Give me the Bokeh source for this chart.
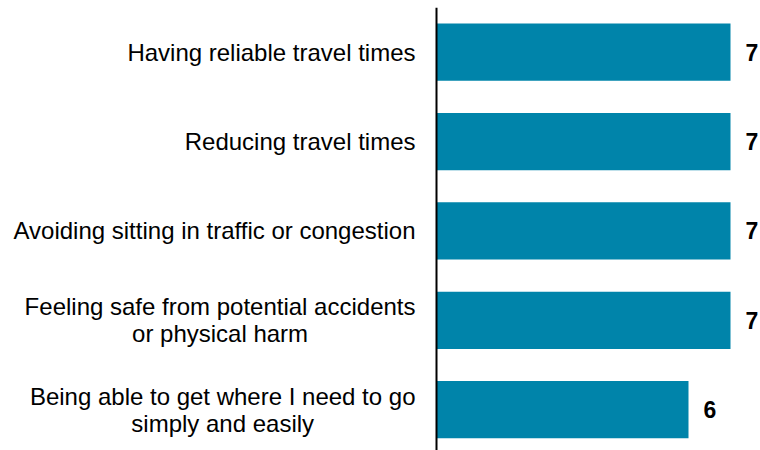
from bokeh.plotting import figure
from bokeh.models import Range1d, ColumnDataSource, Span
from bokeh.core.properties import value
from bokeh.embed import file_html
from bokeh.resources import INLINE

categories = [
    "Having reliable travel times",
    "Reducing travel times",
    "Avoiding sitting in traffic or congestion",
    "Feeling safe from potential accidents\nor physical harm",
    "Being able to get where I need to go\nsimply and easily",
]
values = [7, 7, 7, 7, 6]
value_labels = ["7", "7", "7", "7", "6"]

positions = list(range(len(categories)))
src = ColumnDataSource(dict(y=positions, v=values, lab=value_labels,
                            cat=categories, zero=[0] * len(values)))

PX_PER_UNIT = 42.0
W, H = 760, 450
LEFT_PX = 436
x_start = -LEFT_PX / PX_PER_UNIT
x_end = (W - LEFT_PX) / PX_PER_UNIT

p = figure(width=W, height=H, output_backend="svg", toolbar_location=None,
           x_range=Range1d(x_start, x_end), y_range=Range1d(4.457, -0.5),
           min_border_left=0, min_border_right=0, min_border_top=7, min_border_bottom=0)
p.outline_line_color = None
p.grid.visible = False
p.xaxis.visible = False
p.yaxis.visible = False
p.background_fill_color = "white"

p.hbar(y="y", left=0, right="v", height=0.64, source=src,
       fill_color="#0084AA", line_color=None)

p.add_layout(Span(location=0, dimension="height", line_color="black", line_width=2))

p.text(x="v", y="y", text="lab", source=src, x_offset=15,
       text_align="left", text_baseline="middle",
       text_font=value("Liberation Sans"), text_font_size="23px",
       text_font_style="bold", text_color="black")

p.text(x="zero", y="y", text="cat", source=src, x_offset=-21,
       anchor="center_right", text_align="center", text_baseline="middle",
       text_line_height=1.0,
       text_font=value("Liberation Sans"), text_font_size="24px",
       text_color="black")

open("out.html", "w").write(file_html(p, INLINE))
